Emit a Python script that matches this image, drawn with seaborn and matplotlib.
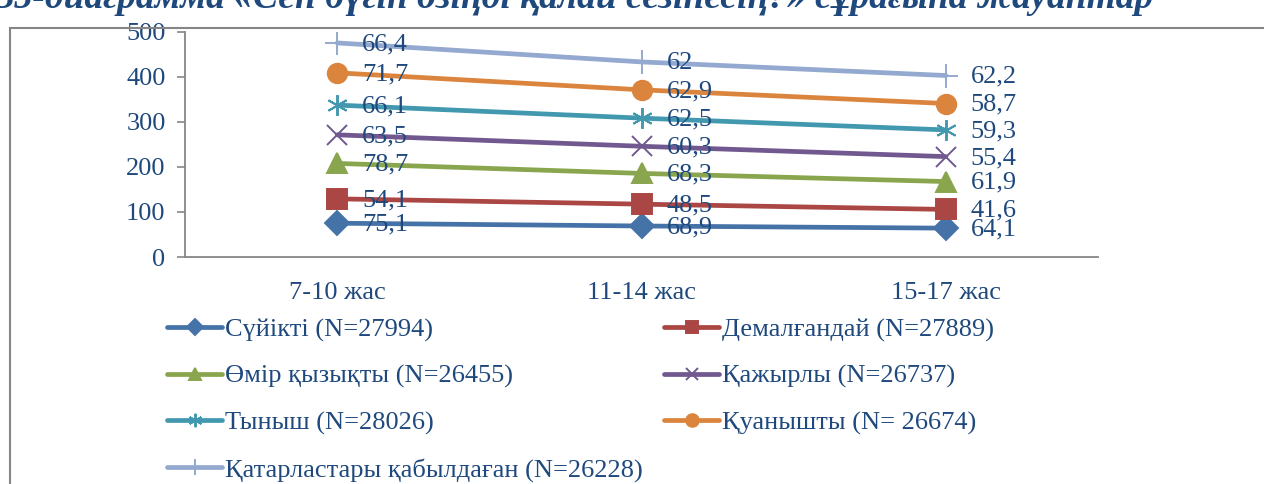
import numpy as np
import pandas as pd
import seaborn as sns
from matplotlib import pyplot as plt
from matplotlib.patches import Rectangle

ages = ["7-10 жас", "11-14 жас", "15-17 жас"]
names = ["Сүйікті (N=27994)", "Демалғандай (N=27889)", "Өмір қызықты (N=26455)",
         "Қажырлы (N=26737)", "Тыныш (N=28026)", "Қуанышты (N= 26674)",
         "Қатарластары қабылдаған (N=26228)"]
suyikti = [75.1, 68.9, 64.1]
demalgandai = [54.1, 48.5, 41.6]
omir = [78.7, 68.3, 61.9]
kazhyrly = [63.5, 60.3, 55.4]
tynysh = [66.1, 62.5, 59.3]
kuanyshty = [71.7, 62.9, 58.7]
katarlastary = [66.4, 62.0, 62.2]

series = [suyikti, demalgandai, omir, kazhyrly, tynysh, kuanyshty, katarlastary]
colors = ["#4572A7", "#AA4643", "#89A54E", "#71588F", "#4198AF", "#DB843D", "#93A9CF"]
markers = ["D", "s", "^", "x", (6, 2, 0), "o", "+"]
msizes = [12, 14, 14, 14, 15, 14, 17]

sns.set_style("white")
plt.rcParams['font.family'] = ['Liberation Serif', 'DejaVu Serif']
txt = "#1F497D"
fs = 19

fig = plt.figure(figsize=(12.64, 4.84), dpi=100)
ax = fig.add_axes([0.1464, 0.469, 0.7223, 0.465])

# stacked line chart: each series sits on top of the previous ones
stacked = np.cumsum(np.array(series), axis=0)
for i, name in enumerate(names):
    df = pd.DataFrame({"age": ages, "value": stacked[i]})
    sns.lineplot(data=df, x="age", y="value", ax=ax, color=colors[i], lw=3.4,
                 marker=markers[i], markersize=msizes[i], markeredgecolor=colors[i],
                 markeredgewidth=1.4, label=name, sort=False)
    for j in range(len(ages)):
        ax.annotate(f"{series[i][j]:g}".replace(".", ","), (j, stacked[i][j]),
                    xytext=(18, -1), textcoords="offset points", va="center",
                    ha="left", fontsize=fs, color=txt)

ax.set_xlim(-0.5, 2.5)
ax.set_ylim(0, 500)
ax.set_yticks(range(0, 501, 100))
ax.set_xticks(range(3))
ax.set_xticks([-0.5, 0.5, 1.5, 2.5], minor=True)
ax.tick_params(axis="x", which="major", length=0, pad=18, labelsize=fs, labelcolor=txt)
ax.tick_params(axis="x", which="minor", length=6, width=1.2, color="#868686", direction="out")
ax.tick_params(axis="y", length=6, width=1.2, color="#868686", pad=8,
               labelsize=fs, labelcolor=txt, left=True)
ax.set_xlabel("")
ax.set_ylabel("")
for s in ["top", "right"]:
    ax.spines[s].set_visible(False)
for s in ["left", "bottom"]:
    ax.spines[s].set_color("#868686")
    ax.spines[s].set_linewidth(1.3)

h, l = ax.get_legend_handles_labels()
ax.get_legend().remove()
order = [0, 2, 4, 6, 1, 3, 5]
fig.legend([h[k] for k in order], [l[k] for k in order], ncol=2, frameon=False,
           loc="upper left", bbox_to_anchor=(167 / 1264, 1 - 318 / 484), fontsize=fs,
           labelcolor=txt, handlelength=2.1, handletextpad=0.1, columnspacing=0.8,
           labelspacing=0.86, markerscale=0.65, borderpad=0, borderaxespad=0)

fig.patches.append(Rectangle((10 / 1264, -0.1), 1.2, 1 - 28 / 484 + 0.1,
                             transform=fig.transFigure, fill=False,
                             edgecolor="#868686", lw=1.5, zorder=0))
fig.text(-0.004, 1 - 8 / 484, "35-диаграмма «Сен бүгін өзіңді қалай сезінесің?» сұрағына жауаптар",
         fontsize=27, fontweight="bold", fontstyle="italic", color=txt, va="baseline")

fig.savefig("out.png", dpi=100)
